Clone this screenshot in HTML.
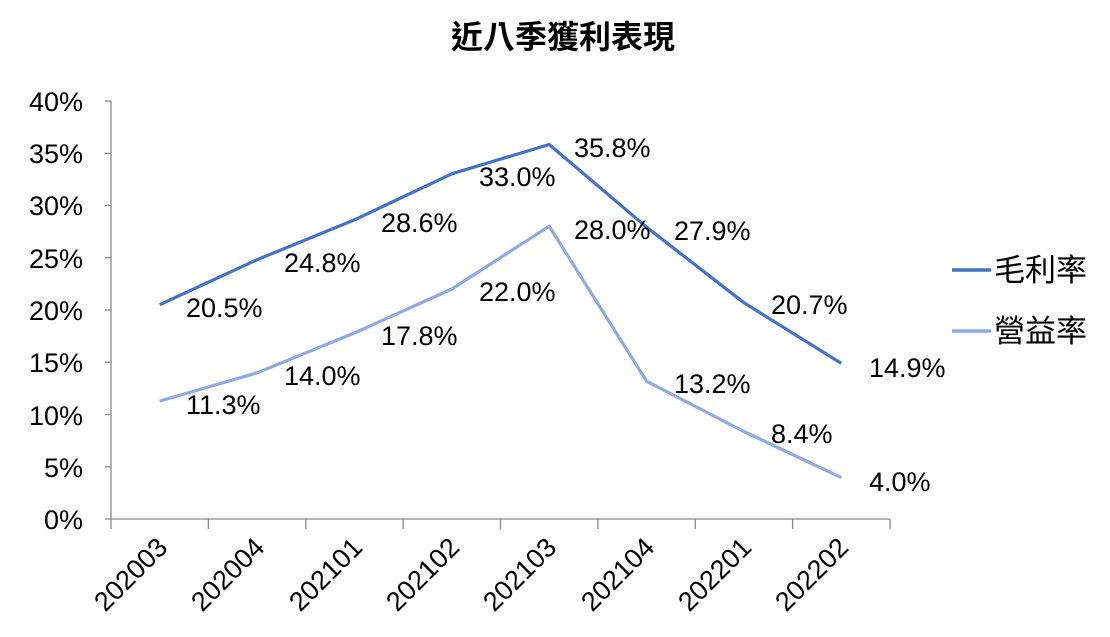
<!DOCTYPE html>
<html><head><meta charset="utf-8"><style>
html,body{margin:0;padding:0;background:#fff;}
svg{display:block;font-family:"Liberation Sans","Noto Sans CJK TC",sans-serif;}
</style></head><body>
<svg width="1110" height="637" viewBox="0 0 1110 637" xmlns="http://www.w3.org/2000/svg">
<text x="563" y="48" text-anchor="middle" font-size="32" font-weight="bold" fill="#000">近八季獲利表現</text>
<g stroke="#898989" stroke-width="1.3" fill="none">
<line x1="111" y1="101" x2="111" y2="529"/>
<line x1="105" y1="519" x2="890" y2="519"/>
<line x1="105" y1="101" x2="111" y2="101"/>
<line x1="105" y1="153.3" x2="111" y2="153.3"/>
<line x1="105" y1="205.5" x2="111" y2="205.5"/>
<line x1="105" y1="257.8" x2="111" y2="257.8"/>
<line x1="105" y1="310" x2="111" y2="310"/>
<line x1="105" y1="362.3" x2="111" y2="362.3"/>
<line x1="105" y1="414.5" x2="111" y2="414.5"/>
<line x1="105" y1="466.8" x2="111" y2="466.8"/>
<line x1="208.4" y1="519" x2="208.4" y2="529"/>
<line x1="305.8" y1="519" x2="305.8" y2="529"/>
<line x1="403.1" y1="519" x2="403.1" y2="529"/>
<line x1="500.5" y1="519" x2="500.5" y2="529"/>
<line x1="597.9" y1="519" x2="597.9" y2="529"/>
<line x1="695.3" y1="519" x2="695.3" y2="529"/>
<line x1="792.6" y1="519" x2="792.6" y2="529"/>
<line x1="890" y1="519" x2="890" y2="529"/>
</g>
<g font-size="27" fill="#000" text-anchor="end">
<text x="83" y="111">40%</text>
<text x="83" y="163">35%</text>
<text x="83" y="215">30%</text>
<text x="83" y="268">25%</text>
<text x="83" y="320">20%</text>
<text x="83" y="372">15%</text>
<text x="83" y="425">10%</text>
<text x="83" y="477">5%</text>
<text x="83" y="529">0%</text>
</g>
<g font-size="27" fill="#000" text-anchor="end">
<text transform="translate(169,549) rotate(-45)">202003</text>
<text transform="translate(266,549) rotate(-45)">202004</text>
<text transform="translate(364,549) rotate(-45)">202101</text>
<text transform="translate(461,549) rotate(-45)">202102</text>
<text transform="translate(558,549) rotate(-45)">202103</text>
<text transform="translate(656,549) rotate(-45)">202104</text>
<text transform="translate(753,549) rotate(-45)">202201</text>
<text transform="translate(850,549) rotate(-45)">202202</text>
</g>
<polyline fill="none" stroke="#4472C4" stroke-width="3.2" stroke-linejoin="round" points="159.7,304.7 257.1,259.7 354.4,219.9 451.8,173.8 549.2,144.5 646.6,227.2 743.9,302.7 841.3,363.4"/>
<polyline fill="none" stroke="#8FAADC" stroke-width="3.2" stroke-linejoin="round" points="159.7,401.1 257.1,372.8 354.4,333 451.8,289 549.2,226.2 646.6,381.2 743.9,431.5 841.3,477.6"/>
<g font-size="27" fill="#000">
<text x="186" y="317">20.5%</text>
<text x="284" y="272">24.8%</text>
<text x="381" y="232">28.6%</text>
<text x="479" y="186">33.0%</text>
<text x="574" y="157">35.8%</text>
<text x="674" y="240">27.9%</text>
<text x="771" y="314">20.7%</text>
<text x="869" y="377">14.9%</text>
<text x="186" y="414">11.3%</text>
<text x="284" y="385">14.0%</text>
<text x="381" y="345">17.8%</text>
<text x="479" y="301">22.0%</text>
<text x="574" y="239">28.0%</text>
<text x="674" y="393">13.2%</text>
<text x="771" y="443">8.4%</text>
<text x="869" y="491">4.0%</text>
</g>
<line x1="952" y1="270" x2="991" y2="270" stroke="#4472C4" stroke-width="3.5"/>
<line x1="952" y1="331" x2="991" y2="331" stroke="#8FAADC" stroke-width="3.5"/>
<g font-size="31" fill="#000">
<text x="994" y="281">毛利率</text>
<text x="994" y="342">營益率</text>
</g>
</svg>
</body></html>
